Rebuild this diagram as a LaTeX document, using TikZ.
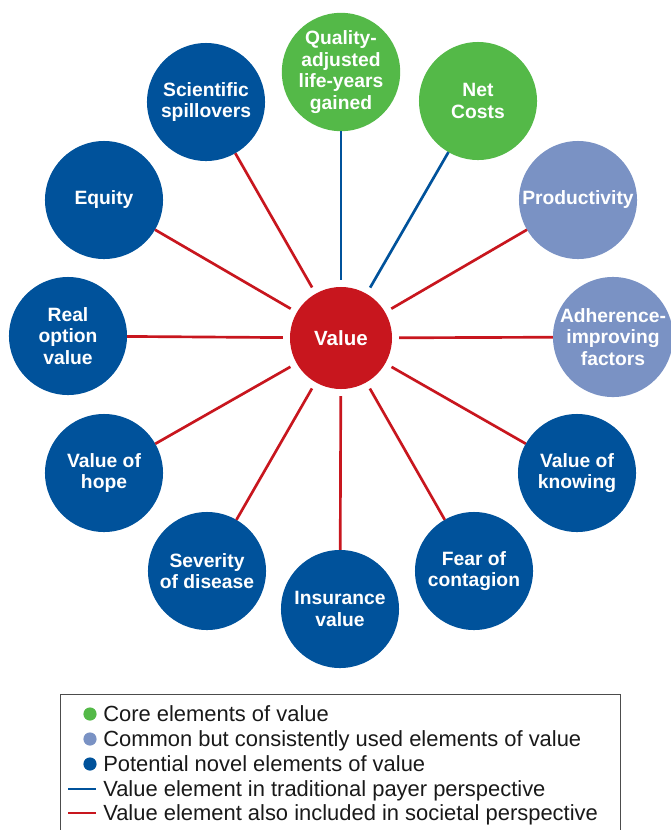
\documentclass[tikz,border=0pt]{standalone}
\usepackage{fontspec}
\setmainfont{Liberation Sans}
\definecolor{coregreen}{RGB}{84,185,72}
\definecolor{commonblue}{RGB}{122,146,196}
\definecolor{novelblue}{RGB}{0,82,155}
\definecolor{valuered}{RGB}{200,22,30}
\begin{document}
\begin{tikzpicture}[x=0.025cm,y=-0.025cm,
		elem/.style={circle,inner sep=0pt,outer sep=0pt,minimum size=2.95cm,text=white,align=center,font=\fontsize{13.7}{15.3}\selectfont\bfseries},
		core/.style={elem,fill=coregreen},
		common/.style={elem,fill=commonblue},
		novel/.style={elem,fill=novelblue},
		payer/.style={draw=novelblue,line width=1.9pt},
		societal/.style={draw=valuered,line width=1.9pt},
		spoke/.style={shorten <=0.18cm},
		keydot/.style={circle,inner sep=0pt,minimum size=0.33cm},
		keytext/.style={anchor=base west,inner sep=0pt,text=black!90,font=\fontsize{15.6}{17}\selectfont}]
				\useasboundingbox (0,0) rectangle (671,830);
				% the value wheel
				\node [elem,fill=valuered,minimum size=2.55cm,font=\fontsize{14.6}{16}\selectfont\bfseries] (value) at (341,338) {Value};
				\node [core] (qaly) at (341,72) {Quality-\\adjusted\\life-years\\gained};
				\node [core] (netcost) at (478,101) {Net\\Costs};
				\node [common] (product) at (578,200) {Productivity};
				\node [common] (adhere) at (613,337) {Adherence-\\improving\\factors};
				\node [novel] (knowing) at (577,473) {Value of\\knowing};
				\node [novel] (contagion) at (474,571) {Fear of\\contagion};
				\node [novel] (insure) at (340,609) {Insurance\\value};
				\node [novel] (severity) at (207,571) {Severity\\of disease};
				\node [novel] (hope) at (104,473) {Value of\\hope};
				\node [novel] (option) at (68,336) {Real\\option\\value};
				\node [novel] (equity) at (104,200) {Equity};
				\node [novel] (spill) at (206,102) {Scientific\\spillovers};
				\draw [payer,spoke] (value) -- (qaly);
				\draw [payer,spoke] (value) -- (netcost);
				\draw [societal,spoke] (value) -- (product);
				\draw [societal,spoke] (value) -- (adhere);
				\draw [societal,spoke] (value) -- (knowing);
				\draw [societal,spoke] (value) -- (contagion);
				\draw [societal,spoke] (value) -- (insure);
				\draw [societal,spoke] (value) -- (severity);
				\draw [societal,spoke] (value) -- (hope);
				\draw [societal,spoke] (value) -- (option);
				\draw [societal,spoke] (value) -- (equity);
				\draw [societal,spoke] (value) -- (spill);
				% key
				\draw [black!70,line width=0.6pt] (60,830) |- (620,694) -- (620,830);
				\node [keydot,fill=coregreen] (kcore) at (90,714) {};
				\node [keydot,fill=commonblue] (kcommon) at (90,739) {};
				\node [keydot,fill=novelblue] (knovel) at (90,764) {};
				\coordinate (kpayerA) at (68,789);
				\coordinate (kpayerB) at (96,789);
				\coordinate (ksocA) at (68,813);
				\coordinate (ksocB) at (96,813);
				\draw [payer,line width=1.4pt] (kpayerA) -- (kpayerB);
				\draw [societal,line width=1.4pt] (ksocA) -- (ksocB);
				\node [keytext] (tcore) at (103,721) {Core elements of value};
				\node [keytext] (tcommon) at (103,746) {Common but consistently used elements of value};
				\node [keytext] (tnovel) at (103,771) {Potential novel elements of value};
				\node [keytext] (tpayer) at (103,796) {Value element in traditional payer perspective};
				\node [keytext] (tsoc) at (103,820) {Value element also included in societal perspective};
			\end{tikzpicture}
\end{document}
